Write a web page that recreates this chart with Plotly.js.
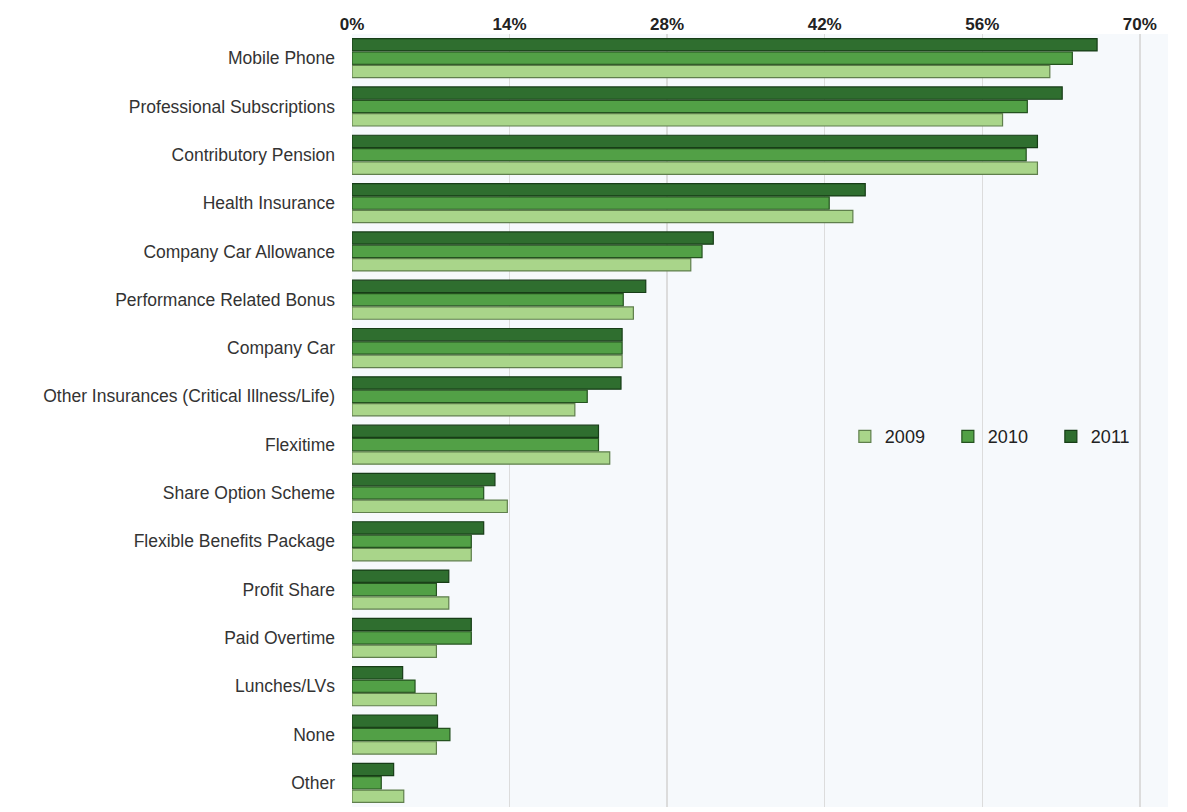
<!DOCTYPE html>
<html>
<head>
<meta charset="utf-8">
<script src="https://cdn.plot.ly/plotly-3.0.1.min.js"></script>
<style>html,body{margin:0;padding:0;background:#fff;}#chart{width:1187px;height:812px;}</style>
</head>
<body>
<div id="chart"></div>
<script>
const categories = ["Mobile Phone","Professional Subscriptions","Contributory Pension","Health Insurance","Company Car Allowance","Performance Related Bonus","Company Car","Other Insurances (Critical Illness/Life)","Flexitime","Share Option Scheme","Flexible Benefits Package","Profit Share","Paid Overtime","Lunches/LVs","None","Other"];
const values2009 = [62.0, 57.8, 60.9, 44.5, 30.1, 25.0, 24.0, 19.8, 22.9, 13.8, 10.6, 8.6, 7.5, 7.5, 7.5, 4.6];
const values2010 = [64.0, 60.0, 59.9, 42.4, 31.1, 24.1, 24.0, 20.9, 21.9, 11.7, 10.6, 7.5, 10.6, 5.6, 8.7, 2.6];
const values2011 = [66.2, 63.1, 60.9, 45.6, 32.1, 26.1, 24.0, 23.9, 21.9, 12.7, 11.7, 8.6, 10.6, 4.5, 7.6, 3.7];
const tickVals = [0, 14, 28, 42, 56, 70];
const tickText = ["0%", "14%", "28%", "42%", "56%", "70%"];

function tr(name, vals, color, line) {
  return {type:'bar', orientation:'h', name:name, y:categories, x:vals,
    marker:{color:color, line:{color:line, width:1.2}}, hoverinfo:'x+y'};
}
const data = [
  tr('2011', values2011, '#2f6e2f', '#173d17'),
  tr('2010', values2010, '#52a046', '#24521f'),
  tr('2009', values2009, '#a9d58a', '#5f7f4c')
];
const layout = {
  width:1187, height:812,
  margin:{l:352, r:19, t:34, b:5},
  paper_bgcolor:'#ffffff', plot_bgcolor:'#f6f9fc',
  font:{family:'"Liberation Sans", Arial, sans-serif', color:'#222'},
  barmode:'group', bargap:0.17, bargroupgap:0.08,
  showlegend:true,
  legend:{orientation:'h', x:0.604, y:0.479, xanchor:'left', yanchor:'middle',
    traceorder:'reversed', entrywidth:58, entrywidthmode:'pixels',
    font:{size:18, color:'#222'}, bgcolor:'rgba(0,0,0,0)'},
  xaxis:{side:'top', range:[0,72.5], tickvals:tickVals, ticktext:tickText,
    tickfont:{size:17, color:'#222', family:'"Liberation Sans", Arial, sans-serif', weight:'bold'},
    showgrid:true, gridcolor:'#dcdcdc', gridwidth:1.5, zeroline:false, showline:false, ticks:''},
  yaxis:{autorange:'reversed', type:'category', tickfont:{size:17.5, color:'#333'},
    ticks:'', ticklen:0, showline:false, showgrid:false, zeroline:false, ticklabelstandoff:16}
};
Plotly.newPlot('chart', data, layout, {displayModeBar:false, staticPlot:true});
</script>
</body>
</html>
